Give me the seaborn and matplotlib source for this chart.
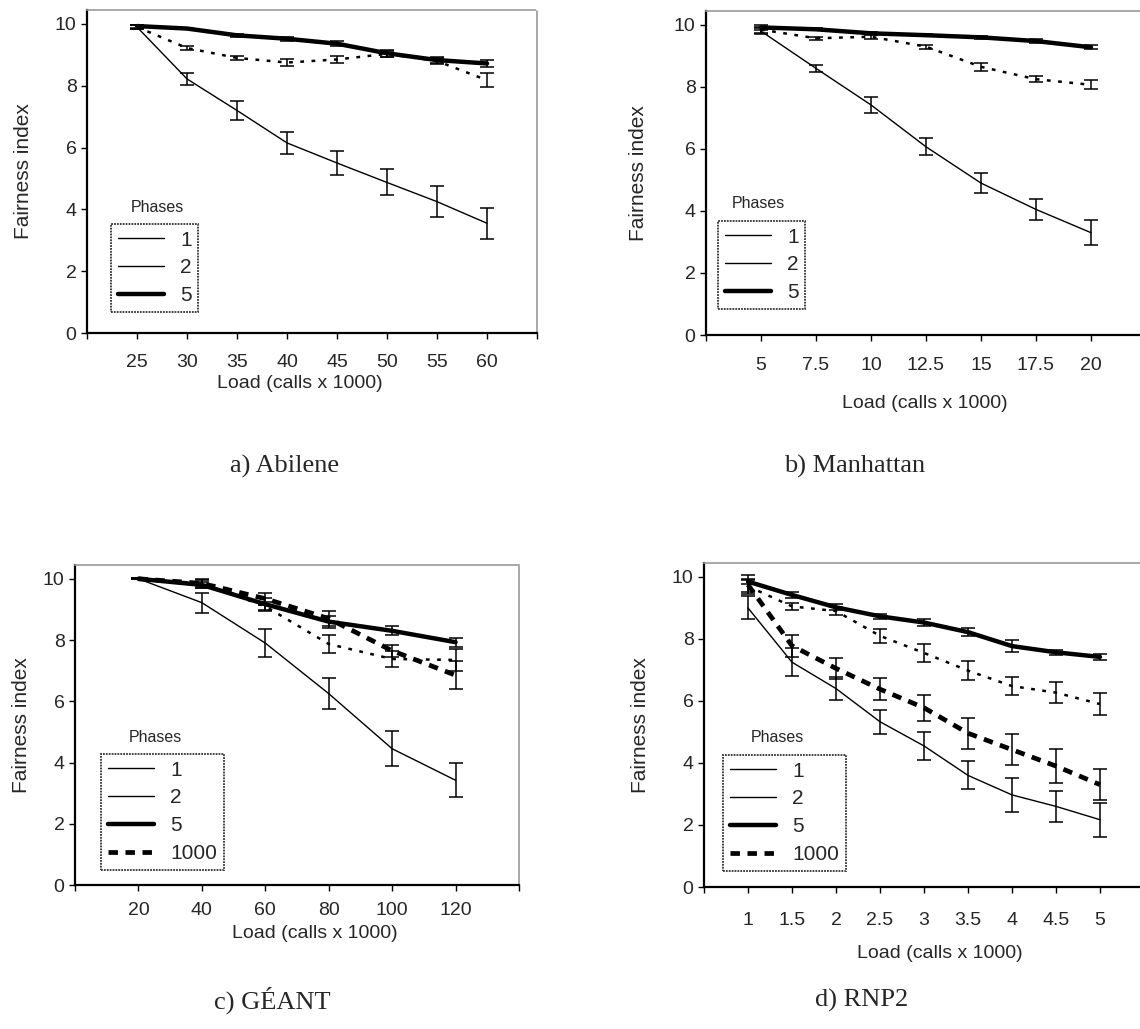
"""
Fairness index vs. load for four topologies (Abilene, Manhattan, GEANT, RNP2).
"""
import seaborn as sns
import matplotlib.pyplot as plt
from matplotlib.lines import Line2D
import pandas as pd

sns.set_style('ticks')
plt.rcParams['font.family'] = ['Liberation Sans', 'DejaVu Sans']

# a) Abilene
abilene_load = [25, 30, 35, 40, 45, 50, 55, 60]
abilene_p1 = [9.9, 8.22, 7.2, 6.15, 5.5, 4.87, 4.25, 3.55]
abilene_p1_err = [0.05, 0.2, 0.3, 0.35, 0.4, 0.42, 0.5, 0.5]
abilene_p2 = [9.9, 9.22, 8.9, 8.75, 8.85, 9.03, 8.8, 8.18]
abilene_p2_err = [0.05, 0.05, 0.07, 0.1, 0.12, 0.1, 0.1, 0.22]
abilene_p5 = [9.93, 9.85, 9.63, 9.52, 9.36, 9.05, 8.83, 8.72]
abilene_p5_err = [0.05, 0.03, 0.05, 0.06, 0.08, 0.12, 0.1, 0.1]

# b) Manhattan
manhattan_load = [5, 7.5, 10, 12.5, 15, 17.5, 20]
manhattan_p1 = [9.8, 8.6, 7.42, 6.07, 4.9, 4.05, 3.3]
manhattan_p1_err = [0.1, 0.12, 0.25, 0.27, 0.32, 0.33, 0.4]
manhattan_p2 = [9.85, 9.57, 9.62, 9.3, 8.65, 8.25, 8.07]
manhattan_p2_err = [0.1, 0.05, 0.08, 0.06, 0.12, 0.1, 0.15]
manhattan_p5 = [9.92, 9.86, 9.73, 9.67, 9.6, 9.48, 9.28]
manhattan_p5_err = [0.08, 0.03, 0.05, 0.03, 0.05, 0.06, 0.07]

# c) GEANT
geant_load = [20, 40, 60, 80, 100, 120]
geant_p1 = [10, 9.22, 7.9, 6.25, 4.45, 3.42]
geant_p1_err = [0.02, 0.33, 0.45, 0.5, 0.58, 0.55]
geant_p2 = [10, 9.85, 9.1, 7.87, 7.38, 7.35]
geant_p2_err = [0.02, 0.1, 0.15, 0.3, 0.25, 0.35]
geant_p5 = [10, 9.8, 9.17, 8.6, 8.3, 7.93]
geant_p5_err = [0.02, 0.1, 0.2, 0.2, 0.15, 0.15]
geant_p1000 = [10, 9.85, 9.35, 8.7, 7.65, 6.85]
geant_p1000_err = [0.02, 0.15, 0.2, 0.25, 0.2, 0.45]

# d) RNP2
rnp2_load = [1, 1.5, 2, 2.5, 3, 3.5, 4, 4.5, 5]
rnp2_p1 = [9.0, 7.25, 6.4, 5.33, 4.55, 3.6, 2.97, 2.6, 2.17]
rnp2_p1_err = [0.37, 0.45, 0.38, 0.38, 0.45, 0.45, 0.55, 0.5, 0.55]
rnp2_p2 = [9.7, 9.05, 8.9, 8.1, 7.55, 6.98, 6.48, 6.27, 5.9]
rnp2_p2_err = [0.2, 0.1, 0.12, 0.22, 0.3, 0.3, 0.3, 0.35, 0.35]
rnp2_p5 = [9.85, 9.42, 9.02, 8.73, 8.53, 8.22, 7.77, 7.57, 7.42]
rnp2_p5_err = [0.08, 0.1, 0.1, 0.08, 0.1, 0.12, 0.2, 0.08, 0.1]
rnp2_p1000 = [9.75, 7.78, 7.05, 6.38, 5.78, 4.96, 4.43, 3.9, 3.3]
rnp2_p1000_err = [0.3, 0.35, 0.33, 0.35, 0.42, 0.5, 0.5, 0.55, 0.5]

PHASES = ['1', '2', '5', '1000']
LINEWIDTH = {'1': 1.0, '2': 1.8, '5': 3.2, '1000': 3.4}
DASHES = {'1': '', '2': (1.5, 3), '5': '', '1000': (2, 1.6)}

W, H = 1140, 1029
fig = plt.figure(figsize=(W / 100, H / 100), dpi=100)


def rect(left, top, right, bottom):
    return [left / W, 1 - bottom / H, (right - left) / W, (bottom - top) / H]


def pt(x, y):
    return x / W, 1 - y / H


def make_df(load, series):
    rows = []
    for phase, (vals, errs) in series.items():
        for x, v, e in zip(load, vals, errs):
            rows.append({'load': x, 'fairness': v, 'err': e, 'phases': phase})
    return pd.DataFrame(rows)


def draw_panel(box, load, series, xlim, xticks, caption, cap_xy,
               xlabel_xy, tick_pad, ylabel_x, legend_xy, title_xy):
    ax = fig.add_axes(rect(*box))
    df = make_df(load, series)
    levels = [p for p in PHASES if p in series]

    for _, r in df.iterrows():
        ax.errorbar(r['load'], r['fairness'], yerr=r['err'], fmt='none',
                    ecolor='black', elinewidth=1.1, capsize=5,
                    capthick=1.1, zorder=2)

    sns.lineplot(data=df, x='load', y='fairness', hue='phases',
                 style='phases', size='phases', hue_order=levels,
                 style_order=levels, size_order=levels,
                 palette={p: 'black' for p in levels},
                 dashes={p: DASHES[p] for p in levels},
                 sizes={p: LINEWIDTH[p] for p in levels},
                 legend=False, ax=ax, zorder=3)

    ax.set_xlim(*xlim)
    ax.set_ylim(0, 10.45)
    ax.set_yticks([0, 2, 4, 6, 8, 10])
    ax.set_xticks(xticks)
    ax.set_xticklabels([''] + [f'{t:g}' for t in xticks[1:-1]] + [''])
    ax.tick_params(axis='both', labelsize=14, length=4, width=1,
                   color='black', direction='out')
    ax.tick_params(axis='x', pad=tick_pad)
    ax.grid(False)

    for side in ('left', 'bottom'):
        ax.spines[side].set_color('black')
        ax.spines[side].set_linewidth(1.6)
    for side in ('top', 'right'):
        ax.spines[side].set_visible(True)
        ax.spines[side].set_color('#9a9a9a')
        ax.spines[side].set_linewidth(1.2)
        ax.spines[side].set_linestyle((0, (1, 1)))

    ax.set_xlabel('Load (calls x 1000)', fontsize=14, va='center')
    ax.xaxis.set_label_coords(*pt(*xlabel_xy), transform=fig.transFigure)
    ax.set_ylabel('Fairness index', fontsize=15)
    ax.yaxis.set_label_coords(*pt(ylabel_x, (box[1] + box[3]) / 2),
                              transform=fig.transFigure)

    handles = [Line2D([], [], color='black', lw=LINEWIDTH[p],
                      linestyle='-' if p != '1000' else (0, DASHES[p]))
               for p in levels]
    handles[0].set_linewidth(1.0)
    handles[1].set_linewidth(1.0)
    leg = ax.legend(handles, levels, loc='upper left',
                    bbox_to_anchor=pt(*legend_xy),
                    bbox_transform=fig.transFigure, borderaxespad=0,
                    fontsize=15, handlelength=2.2, handletextpad=0.8,
                    labelspacing=0.42, borderpad=0.32, fancybox=False,
                    frameon=True)
    leg.get_frame().set_edgecolor('black')
    leg.get_frame().set_linewidth(1.3)
    leg.get_frame().set_linestyle((0, (1, 0.6)))
    fig.text(*pt(*title_xy), 'Phases', fontsize=11.5, ha='center',
             va='center')

    fig.text(*pt(*cap_xy), caption, fontsize=19, ha='center', va='center',
             family='Liberation Serif')
    return ax


draw_panel((87, 10, 537, 333), abilene_load,
           {'1': (abilene_p1, abilene_p1_err),
            '2': (abilene_p2, abilene_p2_err),
            '5': (abilene_p5, abilene_p5_err)},
           (20, 65), list(range(20, 70, 5)), 'a) Abilene', (285, 466),
           (300, 383), 11, 33, (111, 224), (157, 208))

draw_panel((706, 11, 1146, 335), manhattan_load,
           {'1': (manhattan_p1, manhattan_p1_err),
            '2': (manhattan_p2, manhattan_p2_err),
            '5': (manhattan_p5, manhattan_p5_err)},
           (2.5, 22.5), [2.5 * i for i in range(1, 10)], 'b) Manhattan',
           (855, 466), (925, 404), 12, 648, (718, 221), (758, 204))

draw_panel((75, 565, 519, 885), geant_load,
           {'1': (geant_p1, geant_p1_err),
            '2': (geant_p2, geant_p2_err),
            '5': (geant_p5, geant_p5_err),
            '1000': (geant_p1000, geant_p1000_err)},
           (0, 140), list(range(0, 160, 20)), 'c) GÉANT', (272, 1000),
           (315, 933), 8, 31, (101, 754), (155, 738))

draw_panel((704, 563, 1144, 887), rnp2_load,
           {'1': (rnp2_p1, rnp2_p1_err),
            '2': (rnp2_p2, rnp2_p2_err),
            '5': (rnp2_p5, rnp2_p5_err),
            '1000': (rnp2_p1000, rnp2_p1000_err)},
           (0.5, 5.5), [0.5 * i for i in range(1, 12)], 'd) RNP2',
           (862, 1000), (940, 953), 14, 650, (723, 755), (777, 738))

fig.savefig('out.png', dpi=100)
